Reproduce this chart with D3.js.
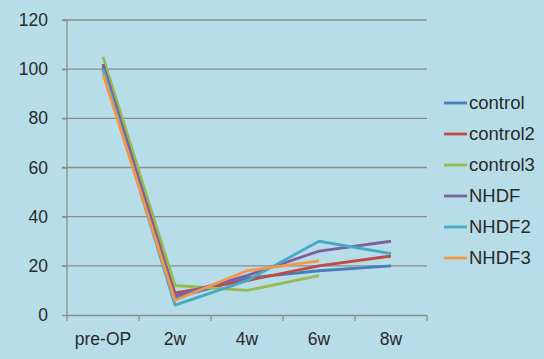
<!DOCTYPE html>
<html><head><meta charset="utf-8">
<script src="https://cdn.jsdelivr.net/npm/d3@7"></script>
<style>body{margin:0;background:#B7DDE8;}svg{display:block;}</style>
</head><body>
<svg id="c" width="544" height="359"></svg>
<script>
const categories = ["pre-OP","2w","4w","6w","8w"];
const yTicks = [0,20,40,60,80,100,120];
const seriesNames = ["control","control2","control3","NHDF","NHDF2","NHDF3"];
const control  = [101, 7, 15, 18, 20];
const control2 = [102, 9, 14, 20, 24];
const control3 = [105, 12, 10, 16, null];
const NHDF     = [102, 8, 16, 26, 30];
const NHDF2    = [100, 4, 14, 30, 25];
const NHDF3    = [98, 6, 18, 22, null];
const colors = ["#4A7EBB","#BE4B48","#98B954","#7D60A0","#46AAC5","#F79646"];
const seriesValues = [control, control2, control3, NHDF, NHDF2, NHDF3];

const svg = d3.select("#c");
const font = "'Liberation Sans', Arial, sans-serif";
svg.append("rect").attr("width",544).attr("height",359).attr("fill","#B7DDE8");

const x = d3.scaleBand().domain(categories).range([67,427]);
const y = d3.scaleLinear().domain([0,120]).range([315,20]);

// grid
svg.append("g").selectAll("line").data(yTicks.filter(d=>d>0)).join("line")
  .attr("x1",62).attr("x2",427).attr("y1",d=>y(d)).attr("y2",d=>y(d))
  .attr("stroke","#8c8c8c").attr("stroke-width",1.3);

// y axis
const ya = svg.append("g").attr("transform","translate(67,0)")
  .call(d3.axisLeft(y).tickValues(yTicks).tickSize(5).tickPadding(14));
ya.select(".domain").attr("stroke","#8c8c8c").attr("stroke-width",1.3).attr("d","M0,"+y(0)+"V"+y(120));
ya.selectAll(".tick line").attr("stroke","#8c8c8c").attr("stroke-width",1.3);
ya.selectAll("text").attr("font-family",font).attr("font-size",17.5).attr("fill","#2a2a2a");

// x axis
const xa = svg.append("g").attr("transform","translate(0,"+y(0)+")")
  .call(d3.axisBottom(x).tickSize(0).tickPadding(18));
xa.select(".domain").attr("stroke","#8c8c8c").attr("stroke-width",1.3);
xa.selectAll("text").attr("font-family",font).attr("font-size",17.5).attr("fill","#2a2a2a");
const bounds = categories.map(c=>x(c)).concat([x(categories[categories.length-1])+x.bandwidth()]);
svg.append("g").selectAll("line").data(bounds).join("line")
  .attr("x1",d=>d).attr("x2",d=>d).attr("y1",y(0)).attr("y2",y(0)+6)
  .attr("stroke","#8c8c8c").attr("stroke-width",1.3);

// lines
const line = d3.line().defined(d=>d.v!=null).x(d=>x(d.c)+x.bandwidth()/2).y(d=>y(d.v));
seriesValues.forEach((vals,i)=>{
  svg.append("path").datum(vals.map((v,j)=>({c:categories[j],v})))
    .attr("d",line).attr("fill","none").attr("stroke",colors[i])
    .attr("stroke-width",2.8).attr("stroke-linejoin","round");
});

// legend
const lg = svg.append("g");
seriesNames.forEach((n,i)=>{
  const yy = 103 + i*31;
  lg.append("line").attr("x1",444).attr("x2",467).attr("y1",yy).attr("y2",yy)
    .attr("stroke",colors[i]).attr("stroke-width",2.8);
  lg.append("text").attr("x",469).attr("y",yy).attr("dy","0.35em")
    .attr("font-family",font).attr("font-size",18.5).attr("fill","#2a2a2a").text(n);
});
</script>
</body></html>
